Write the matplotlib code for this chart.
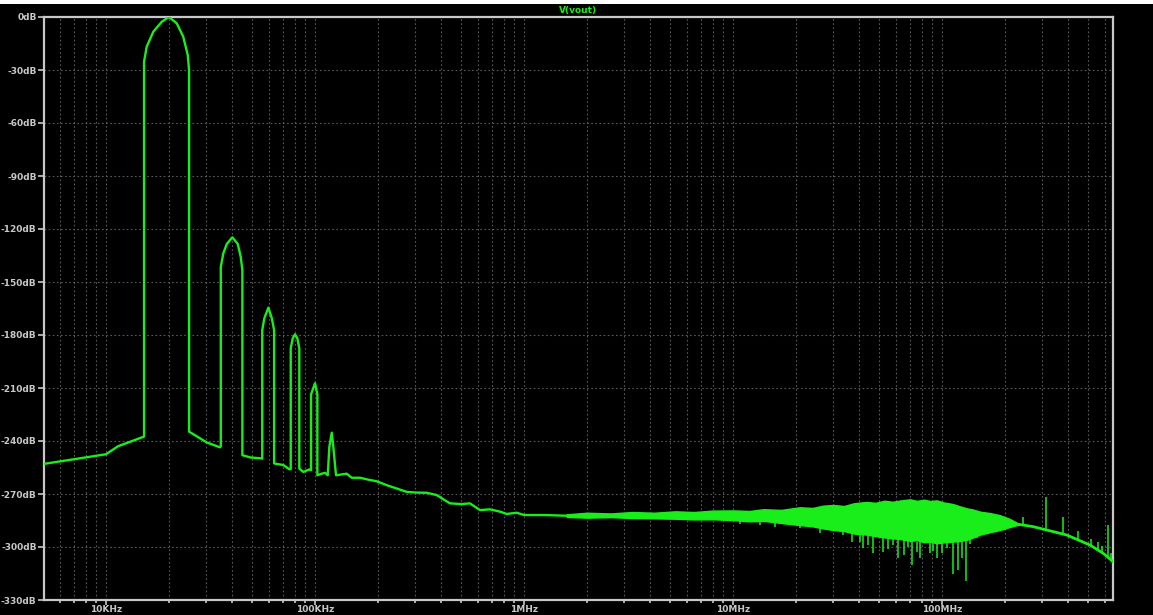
import numpy as np
import matplotlib
matplotlib.use('Agg')
import matplotlib.pyplot as plt
from matplotlib.patches import Rectangle

# trace (freq in Hz, level in dB)
freq = [5.02e3, 10e3, 11.4e3, 15.2e3, 15.2e3, 15.65e3, 16.84e3, 18.48e3, 20.0e3,
        21.8e3, 23.4e3, 24.6e3, 24.96e3, 24.96e3, 28.2e3, 30.3e3, 35.1e3,
        35.4e3, 35.4e3, 36.4e3, 37.8e3, 40.2e3, 42.7e3, 44.1e3, 44.9e3, 44.9e3,
        48.9e3, 55.1e3, 55.9e3, 55.9e3, 57.2e3, 59.8e3, 62.1e3, 63.7e3, 63.7e3,
        70.5e3, 75.3e3, 76.5e3, 76.5e3, 78.2e3, 80.2e3, 82.3e3, 84.1e3, 84.1e3,
        87.9e3, 93.9e3, 95.7e3, 95.7e3, 100e3, 102.6e3, 102.6e3,
        105.7e3, 111.6e3, 115.0e3, 117.1e3, 120.2e3, 122.3e3, 126e3,
        141.8e3, 149.8e3, 164.2e3, 179.9e3, 197.3e3, 220.3e3, 246e3, 274.6e3,
        306.6e3, 342.3e3, 382.3e3, 411.1e3, 442.5e3, 503e3, 551e3, 616e3,
        688e3, 768e3, 827e3, 923e3, 1.0e6, 1.237e6, 1.6e6]
level = [-253, -247.5, -243, -237.5, -25.3, -16.8, -8.3, -2.7, 0,
         -3.6, -11.1, -21.5, -30, -234.7, -238.5, -240.8, -243.6,
         -243, -141.5, -133.8, -128.5, -124.7, -128.5, -135.8, -143.2, -248,
         -249.3, -249.8, -250, -177.2, -170.5, -164.5, -170.5, -177.2, -252.7,
         -253.6, -256, -256, -187.6, -181.9, -179.6, -181.9, -187.6, -255.6,
         -257.5, -256.1, -256.5, -213.6, -207.3, -213.6, -259.4,
         -258.8, -258, -259.4, -243.3, -235.3, -243.3, -259.4,
         -258.5, -260.8, -260.8, -261.9, -262.8, -265, -266.9, -268.8,
         -269.2, -269.3, -270.6, -273, -275.3, -275.7, -275.3, -279.1,
         -278.7, -280, -281.3, -280.6, -281.9, -281.9, -282.3]

# noisy band (upper / lower envelope)
band_f = [1.6e6, 2.0e6, 2.6e6, 3.3e6, 4.2e6, 5.3e6, 6.5e6, 8.0e6, 10e6, 12e6,
          14e6, 17e6, 20.9e6, 24e6, 27e6, 30.2e6, 34e6, 38e6, 43.6e6, 48e6,
          53e6, 58e6, 63e6, 70.3e6, 76e6, 82e6, 88e6, 94.3e6, 102e6, 112e6,
          122e6, 131.3e6, 141e6, 152e6, 170e6, 189.4e6, 210e6, 227.8e6, 236e6]
band_hi = [-281.5, -280.6, -281.0, -280.2, -280.6, -279.8, -280.2, -279.4, -279.3, -279.6,
           -278.6, -279.0, -277.5, -277.9, -276.6, -276.2, -276.8, -275.2, -274.5, -275.0,
           -273.8, -274.4, -273.7, -273.0, -273.9, -273.2, -274.0, -273.6, -274.8, -275.6,
           -277.0, -278.1, -278.8, -280.0, -280.8, -282.0, -284.0, -286.2, -287.3]
band_lo = [-283.0, -283.4, -283.1, -283.6, -283.8, -284.0, -284.4, -284.3, -284.8, -285.5,
           -285.2, -286.4, -287.6, -288.3, -289.5, -290.4, -291.0, -292.4, -293.0, -293.8,
           -294.6, -295.1, -295.5, -296.5, -296.2, -297.3, -297.0, -297.9, -297.4, -297.0,
           -296.6, -296.0, -294.6, -293.0, -291.6, -290.4, -288.8, -287.6, -287.4]

# roll-off after the band
tail_f = [236e6, 273.5e6, 395e6, 510.8e6, 591e6, 658e6]
tail_db = [-287.3, -288.5, -293.2, -298.9, -303.6, -308.3]

# downward spikes out of the band
dn_f = [10.8e6, 13.5e6, 15.9e6, 20.9e6, 26.1e6, 33.7e6, 37e6, 40.5e6, 42e6, 44.4e6,
        46.9e6, 52.4e6, 55.3e6, 58.5e6, 61.8e6, 65.8e6, 69e6, 71.6e6, 75.7e6,
        78.5e6, 87.6e6, 90.9e6, 94.3e6, 99.7e6, 105.3e6, 113.3e6, 119.7e6,
        124.3e6, 129.9e6, 136.1e6, 146.6e6]
dn_top = [-284.5, -285, -285.5, -287.5, -289, -291.5, -292.2, -293, -293.3, -293.6,
          -294, -294.8, -295.2, -295.5, -295.8, -296, -296.3, -296.5, -297,
          -297.2, -297.7, -297.8, -297.9, -297.5, -297.2, -296.9, -296.6,
          -296.3, -296, -295.2, -293.8]
dn_bot = [-287, -287.5, -288.5, -289.5, -292.1, -293.2, -296.9, -297, -300.7, -299,
          -303.6, -302.7, -301, -298.9, -306.4, -304.5, -300, -310.2, -303,
          -306.4, -303.6, -302, -306.4, -303.5, -300.7, -315, -313,
          -306, -319, -298.5, -295]

# upward spikes on the roll-off
up_f = [243e6, 313.5e6, 380.5e6, 446e6, 514.6e6, 556e6, 581e6, 620.5e6, 641.5e6]
up_base = [-287.7, -289.8, -292.6, -295.5, -299.2, -301.5, -303, -305.5, -306.8]
up_top = [-282.9, -271.5, -283.3, -291, -295.7, -297.1, -299.5, -287.6, -303.6]

grn = '#1aee1a'
fg = '#c8c8c8'

fig = plt.figure(figsize=(11.53, 6.15), dpi=100, facecolor='black')
ax = fig.add_axes([43.5/1153, 15/615, (1113-43.5)/1153, 583/615])
ax.set_facecolor('black')
fig.patches.append(Rectangle((0, 1-4/615), 1, 4/615, transform=fig.transFigure,
                             facecolor='white', edgecolor='none'))

ax.plot(freq, level, color=grn, lw=1.7, solid_joinstyle='round', zorder=3)
ax.fill_between(band_f, band_lo, band_hi, color=grn, lw=1.0, zorder=3)
ax.plot(tail_f, tail_db, color=grn, lw=2.0, zorder=3)
ax.vlines(dn_f, dn_bot, dn_top, color=grn, lw=1.1, zorder=3)
ax.vlines(up_f, up_base, up_top, color=grn, lw=1.1, zorder=3)

ax.set_xscale('log')
ax.set_xlim(5.02e3, 658e6)
ax.set_ylim(-330, 0)

yt = np.arange(-330, 1, 30)
ax.set_yticks(yt)
ax.set_yticklabels(['%ddB' % v for v in yt])
ax.set_xticks([1e4, 1e5, 1e6, 1e7, 1e8])
ax.set_xticklabels(['10KHz', '100KHz', '1MHz', '10MHz', '100MHz'])
ax.xaxis.set_minor_locator(matplotlib.ticker.LogLocator(base=10, subs=np.arange(2, 10)))
ax.xaxis.set_minor_formatter(matplotlib.ticker.NullFormatter())

ax.tick_params(axis='both', which='both', colors=fg, labelsize=6.5, direction='out')
ax.tick_params(axis='x', which='major', length=3.5, width=1.2, pad=0)
ax.tick_params(axis='x', which='minor', length=2, width=1.2)
ax.tick_params(axis='y', which='major', length=4, width=1.2, pad=1)
for lab in ax.get_xticklabels() + ax.get_yticklabels():
    lab.set_fontweight('bold')

ax.grid(True, which='both', axis='x', color='#5a5a5a', lw=0.8, ls=(0, (1.5, 2.2)))
ax.grid(True, which='major', axis='y', color='#5a5a5a', lw=0.8, ls=(0, (1.5, 2.2)))
ax.set_axisbelow(True)

for s in ax.spines.values():
    s.set_color(fg)
    s.set_linewidth(1.6)

fig.text(578/1153, 1-10/615, 'V(vout)', color=grn, fontsize=6.5, fontweight='bold',
         ha='center', va='center')

fig.savefig('out.png', dpi=100, facecolor='black')
